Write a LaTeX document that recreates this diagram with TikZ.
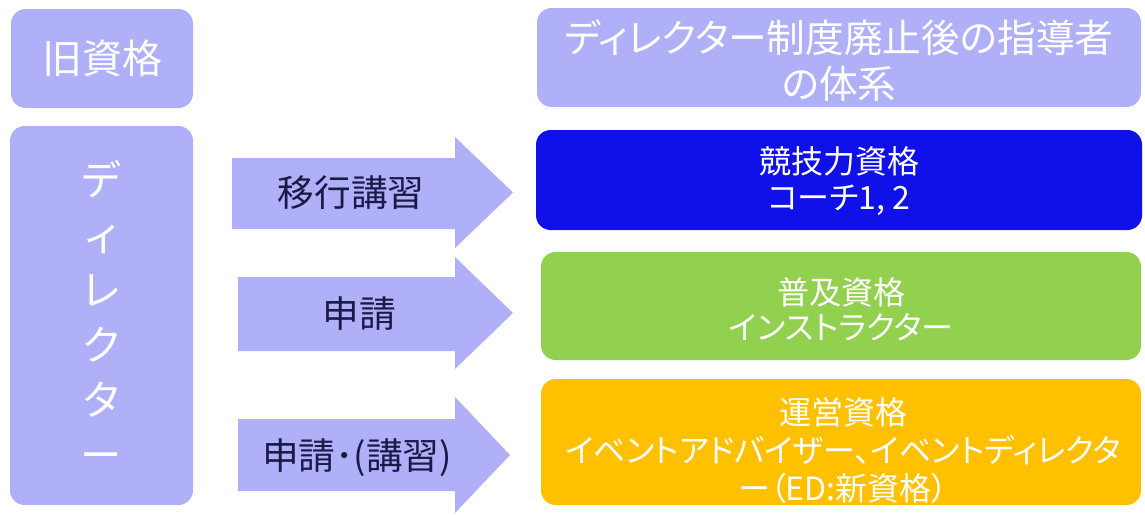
\documentclass[tikz,border=0pt]{standalone}
\usepackage{fontspec}
\setmainfont{Noto Sans CJK JP}[RawFeature=+palt]
\definecolor{lav}{RGB}{176,176,248}
\definecolor{bbl}{RGB}{16,16,232}
\definecolor{grn}{RGB}{146,208,80}
\definecolor{org}{RGB}{255,192,0}
\definecolor{navy}{RGB}{26,26,72}
\tikzset{
  box/.style={fill=#1, draw=none, rounded corners=11pt, inner sep=0pt},
  btext/.style={text=white, inner sep=0pt, align=center},
  blockarrow/.style={fill=lav, draw=none},
  alabel/.style={text=navy, inner sep=0pt, font=\fontsize{27.5pt}{30pt}\selectfont}
}
\begin{document}
\begin{tikzpicture}[x=0.75pt,y=-0.75pt]
\useasboundingbox (0,0) rectangle (1145,514);
\fill[white] (0,0) rectangle (1145,514);
% left boxes
\node[box=lav, minimum width=182*0.75pt, minimum height=99*0.75pt] (old) at (102,58.5) {};
\node[btext, font=\fontsize{30pt}{32pt}\selectfont] (oldt) at (old.center) {旧資格};
\node[box=lav, minimum width=183*0.75pt, minimum height=379*0.75pt] (dir) at (101.5,315.5) {};
\node[btext, font=\fontsize{31pt}{41.25pt}\selectfont] (dirt) at (dir.center) {デ\\ィ\\レ\\ク\\タ\\ー};
% right boxes
\node[box=lav, minimum width=604*0.75pt, minimum height=99*0.75pt] (title) at (839,57.5) {};
\node[btext, font=\fontsize{29pt}{34.5pt}\selectfont] (titlet) at (839,61) {ディレクター制度廃止後の指導者\\の体系};
\node[box=bbl, minimum width=606*0.75pt, minimum height=100*0.75pt] (comp) at (839,180) {};
\node[btext, font=\fontsize{24pt}{26.5pt}\selectfont] (compt) at (839,181) {競技力資格\\コーチ1, 2};
\node[box=grn, minimum width=600*0.75pt, minimum height=108*0.75pt] (pop) at (841,306) {};
\node[btext, font=\fontsize{24pt}{26.5pt}\selectfont] (popt) at (841,309) {普及資格\\インストラクター};
\node[box=org, minimum width=600*0.75pt, minimum height=126*0.75pt] (ops) at (841,442) {};
\node[btext, font=\fontsize{24pt}{28.5pt}\selectfont] (opst) at (843,451) {運営資格\\イベントアドバイザー、イベントディレクタ\\ー（ED:新資格）};
% block arrows
\fill[blockarrow] (232,158) -- (455,158) -- (455,137) -- (513,192.5) -- (455,248) -- (455,229) -- (232,229) -- cycle;
\fill[blockarrow] (238,277) -- (455,277) -- (455,257) -- (513,313) -- (455,369) -- (455,351) -- (238,351) -- cycle;
\fill[blockarrow] (238,419) -- (455,419) -- (455,397) -- (510,455) -- (455,513) -- (455,491) -- (238,491) -- cycle;
\node[alabel] (a1) at (351,193) {移行講習};
\node[alabel] (a2) at (359,314) {申請};
\node[alabel] (a3) at (357,458) {申請･(講習)};
\end{tikzpicture}
\end{document}
